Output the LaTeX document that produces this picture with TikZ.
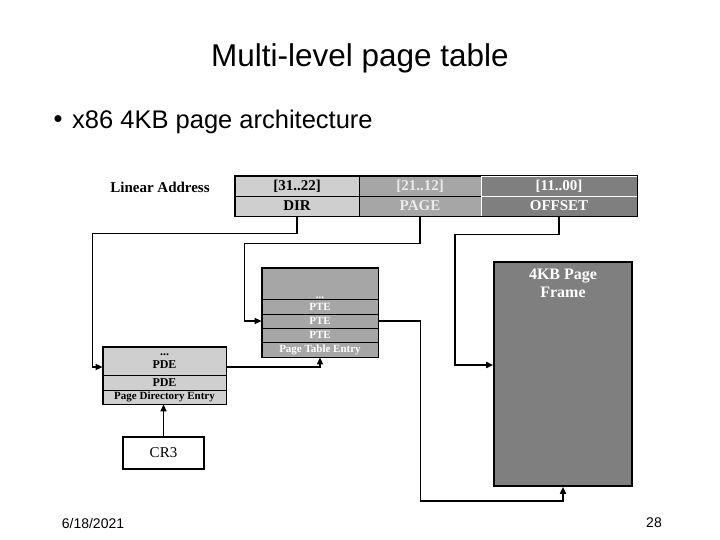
\documentclass[tikz,border=0pt]{standalone}
\usepackage{fontspec}
\setmainfont{Liberation Sans}
\newfontfamily\timesfont{Liberation Serif}
\usetikzlibrary{arrows.meta,positioning}
\definecolor{dotlight}{HTML}{CFCFCF}
\definecolor{dotmid}{HTML}{A6A6A6}
\definecolor{framegray}{HTML}{7F7F7F}

\begin{document}
\begin{tikzpicture}[x=1pt, y=-1pt,
  cell/.style={draw, line width=0.8pt, minimum height=20pt, inner sep=0pt, font=\timesfont\bfseries\fontsize{15}{15}\selectfont},
  ptcell/.style={draw, line width=0.8pt, fill=dotmid, text=white, minimum width=116pt, inner sep=0pt, font=\timesfont\bfseries\fontsize{11}{11}\selectfont},
  pdcell/.style={draw, line width=0.8pt, fill=dotlight, minimum width=123pt, inner sep=0pt, font=\timesfont\bfseries\fontsize{12}{13}\selectfont},
  conn/.style={line width=1.6pt},
  arr/.style={conn, -{Triangle[length=7pt,width=6pt]}}]
\useasboundingbox[fill=white] (0,0) rectangle (720,540);

\node[font=\fontsize{31.5}{32}\selectfont] (title) at (360,58) {Multi-level page table};
\node[font=\fontsize{25.5}{26}\selectfont] (bullet) at (58,122) {•};
\node[anchor=west, inner sep=0pt, font=\fontsize{25.5}{26}\selectfont] (item) at (72,122) {x86 4KB page architecture};

% linear address
\node[font=\timesfont\bfseries\fontsize{15}{15}\selectfont] (lin) at (160,187) {Linear Address};
\node[cell, fill=dotlight, minimum width=124pt] (dirtop) at (297,186) {[31..22]};
\node[cell, fill=dotlight, minimum width=124pt] (dirbot) at (297,206) {DIR};
\node[cell, fill=dotmid, text=black!8, minimum width=122pt] (pagetop) at (420,186) {[21..12]};
\node[cell, fill=dotmid, text=black!8, minimum width=122pt] (pagebot) at (420,206) {PAGE};
\node[cell, draw=white, fill=framegray, text=white, minimum width=156pt] (offtop) at (559,186) {[11..00]};
\node[cell, draw=white, fill=framegray, text=white, minimum width=156pt] (offbot) at (559,206) {OFFSET};
\draw[conn] (dirtop.north west) rectangle (offbot.south east);

% page table
\node[ptcell, minimum height=31pt] (ptdots) at (320,283.5) {};
\node[above=0pt of ptdots.south, inner sep=1pt, text=white, font=\timesfont\bfseries\fontsize{11}{11}\selectfont] (ptdotstext) {...};
\node[ptcell, minimum height=15pt] (pte1) at (320,306.5) {PTE};
\node[ptcell, minimum height=14pt] (pte2) at (320,321) {PTE};
\node[ptcell, minimum height=14pt] (pte3) at (320,335) {PTE};
\node[ptcell, minimum height=15pt] (ptentry) at (320,349.5) {Page Table Entry};
\draw[conn] (ptdots.north west) rectangle (ptentry.south east);

% page directory
\node[pdcell, minimum height=28pt, align=center] (pdtop) at (164.5,361) {...\\PDE};
\node[pdcell, minimum height=15pt] (pde2) at (164.5,382.5) {PDE};
\node[pdcell, minimum height=14pt, font=\timesfont\bfseries\fontsize{11}{11}\selectfont] (pdentry) at (164.5,397) {Page Directory Entry};
\draw[conn] (pdtop.north west) rectangle (pdentry.south east);

% page frame
\node[draw, line width=1.6pt, fill=framegray, minimum width=138pt, minimum height=224pt] (frame) at (563,374) {};
\node[below=4pt of frame.north, align=center, text=white, font=\timesfont\bfseries\fontsize{16}{18}\selectfont] (frametext) {4KB Page\\Frame};

\node[draw, line width=1.6pt, minimum width=81pt, minimum height=32pt, font=\timesfont\fontsize{15}{15}\selectfont] (cr3) at (163.5,453) {CR3};

\draw[arr] (dirbot.south) -- ++(0,17) -| ([xshift=-10pt,yshift=-6pt]pdtop.west) -- ([yshift=-6pt]pdtop.west);
\draw[arr] (pagebot.south) -- ++(0,27) -| ([xshift=-17pt]pte2.west) -- (pte2.west);
\draw[arr] (offbot.south) -- ++(0,18) -| ([xshift=-38pt,yshift=9pt]frame.west) -- ([yshift=9pt]frame.west);
\draw[arr] (pte2.east) -- ++(42,0) |- ([yshift=-14pt]frame.south) -- (frame.south);
\draw[arr] ([yshift=-6pt]pdtop.east) -| (ptentry.south);
\draw[arr] (cr3.north) -- (cr3.north |- pdentry.south);

\node[font=\fontsize{14}{14}\selectfont] (date) at (93,523) {6/18/2021};
\node[font=\fontsize{14}{14}\selectfont] (page) at (654,523) {28};
\end{tikzpicture}
\end{document}
